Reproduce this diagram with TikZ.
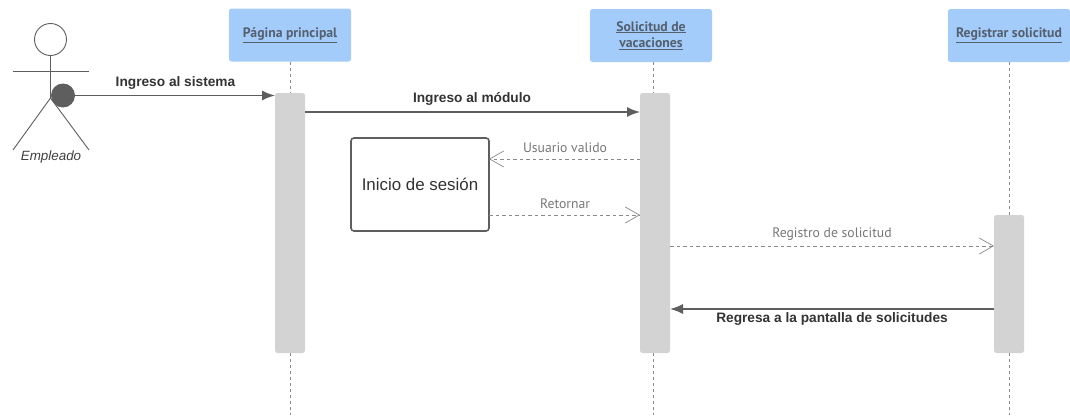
\documentclass[tikz,border=0pt]{standalone}
\usepackage{fontspec}
\setmainfont{Liberation Sans}
\newfontfamily\ptsans{PT Sans}
\usetikzlibrary{arrows.meta}
\definecolor{headblue}{HTML}{A3CCFB}
\definecolor{actgray}{HTML}{D3D3D3}
\definecolor{linegray}{HTML}{5E5E5E}
\definecolor{dashgray}{HTML}{8A8A8A}
\definecolor{msggray}{HTML}{777777}
\definecolor{headtext}{HTML}{55606E}
\tikzset{
	head/.style={fill=headblue,rounded corners=2.5pt,inner sep=0pt,outer sep=0pt,minimum width=122pt,minimum height=53pt,align=center,font=\ptsans\bfseries\fontsize{13.7}{16.5}\selectfont,text=headtext},
	act/.style={fill=actgray,rounded corners=2.5pt,inner sep=0pt,outer sep=0pt,minimum width=30pt},
	life/.style={draw=dashgray,line width=0.8pt,dash pattern=on 3pt off 3pt},
	solidmsg/.style={draw=linegray,line width=1.5pt,-{Latex[length=13pt,width=10pt]}},
	dashmsg/.style={draw=dashgray,line width=0.8pt,dash pattern=on 3.5pt off 3pt,-{Straight Barb[length=14pt,width=16pt,line width=0.7pt]}},
	boldlabel/.style={font=\bfseries\fontsize{13.7}{15}\selectfont,text=black!80},
	msglabel/.style={font=\ptsans\fontsize{13.7}{15}\selectfont,text=msggray},
	limb/.style={draw=linegray,line width=0.9pt}
}
\begin{document}
\begin{tikzpicture}[x=1pt,y=-1pt]
	\useasboundingbox (0,0) rectangle (1070,415);
	% lifelines first, the bars sit on top
	\draw (290,35) node[head] (P1) {\underline{Página principal}};
	\draw (651,35.5) node[head] (P2) {\underline{Solicitud de}\\\underline{vacaciones}};
	\draw (1009,35.5) node[head] (P3) {\underline{Registrar solicitud}};
	\draw (290,223) node[act,minimum height=260pt] (A1) {};
	\draw (655,223) node[act,minimum height=260pt] (A2) {};
	\draw (1009,284) node[act,minimum height=138pt] (A3) {};
	\coordinate (end1) at (290,415);
	\coordinate (end2) at (653,415);
	\coordinate (end3) at (1009,415);
	\draw[life] (P1.south) -- (A1.north);
	\draw[life] (A1.south) -- (end1);
	\draw[life] (P2.south -| end2) -- (A2.north -| end2);
	\draw[life] (A2.south -| end2) -- (end2);
	\draw[life] (P3.south) -- (A3.north);
	\draw[life] (A3.south) -- (end3);
	% actor
	\draw (50.5,39.5) node[circle,draw=linegray,line width=0.9pt,minimum size=32pt,inner sep=0pt] (C1) {};
	\coordinate (hip) at (50.5,98);
	\coordinate (armL) at (13,71);
	\coordinate (armR) at (89,71);
	\coordinate (legL) at (13,150);
	\coordinate (legR) at (89,150);
	\draw[limb] (C1.south) -- (hip);
	\draw[limb] (armL) -- (armR);
	\draw[limb] (legL) -- (hip) -- (legR);
	\draw (63,95.5) node[circle,fill=linegray,minimum size=24pt,inner sep=0pt,outer sep=0pt] (D1) {};
	\draw (51,157) node[font=\itshape\fontsize{13.4}{15}\selectfont,text=black!75] (E1) {Empleado};
	% box
	\draw (420,184.5) node[draw=linegray,line width=1.6pt,rounded corners=3pt,fill=white,minimum width=138pt,minimum height=93pt,inner sep=0pt,font=\fontsize{16.9}{19}\selectfont,text=black!80] (S1) {Inicio de sesión};
	% message ends
	\coordinate (a1) at (275,95.5);
	\coordinate (m2a) at (305,112);
	\coordinate (m2b) at (640,112);
	\coordinate (m3a) at (640,159);
	\coordinate (m3b) at (489,159);
	\coordinate (m4a) at (489,215);
	\coordinate (m4b) at (640,215);
	\coordinate (m5a) at (670,246);
	\coordinate (m5b) at (994,246);
	\coordinate (m6a) at (994,309);
	\coordinate (m6b) at (670,309);
	\draw[solidmsg] (D1.east) -- (a1);
	\draw[solidmsg] (m2a) -- (m2b);
	\draw[dashmsg] (m3a) -- (m3b);
	\draw[dashmsg] (m4a) -- (m4b);
	\draw[dashmsg] (m5a) -- (m5b);
	\draw[solidmsg] (m6a) -- (m6b);
	% labels
	\draw (175.5,83) node[boldlabel] (L1) {Ingreso al sistema};
	\draw (472,99) node[boldlabel] (L2) {Ingreso al módulo};
	\draw (565,148) node[msglabel] (L3) {Usuario valido};
	\draw (565,204) node[msglabel] (L4) {Retornar};
	\draw (832,234) node[msglabel] (L5) {Registro de solicitud};
	\draw (832,319) node[boldlabel] (L6) {Regresa a la pantalla de solicitudes};
\end{tikzpicture}
\end{document}
